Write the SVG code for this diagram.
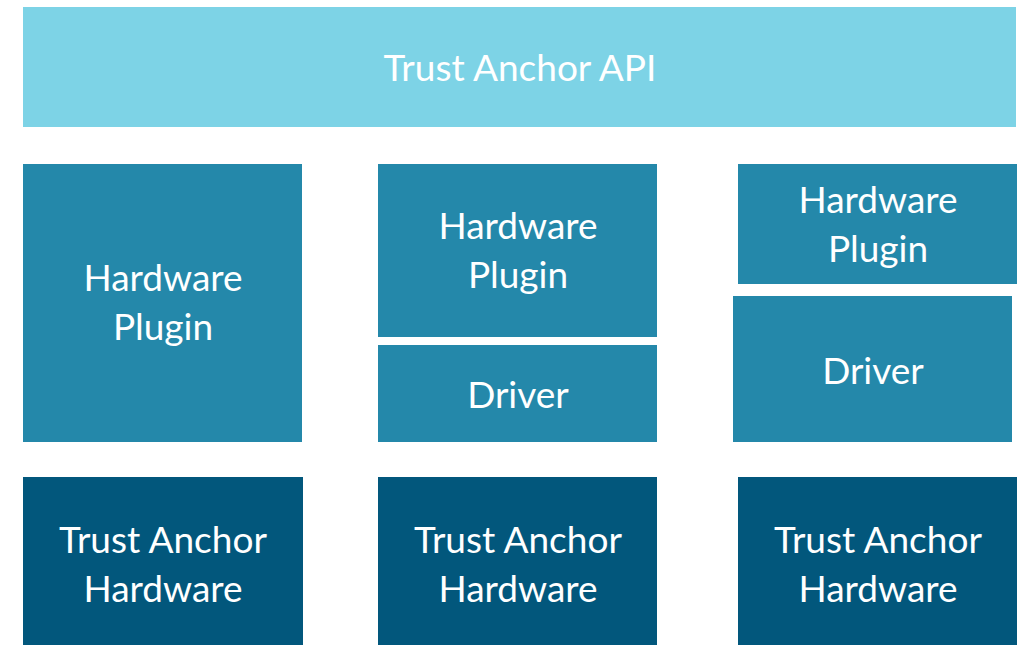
<svg xmlns="http://www.w3.org/2000/svg" width="1023" height="645" viewBox="0 0 1023 645">
  <style>
    .api { fill: #7dd3e6; }
    .mid { fill: #2488aa; }
    .dark { fill: #02577c; }
    text { font-family: Lato, "Open Sans", sans-serif; font-size: 37px; fill: #ffffff; text-anchor: middle; }
  </style>
  <rect width="1023" height="645" fill="#ffffff"/>

  <g id="api">
    <rect class="api" x="23" y="7" width="993" height="120"/>
    <text x="520" y="81">Trust Anchor API</text>
  </g>

  <g id="plugin-left">
    <rect class="mid" x="23" y="164" width="279" height="278"/>
    <text x="163" y="291">Hardware</text>
    <text x="163" y="340">Plugin</text>
  </g>

  <g id="plugin-middle">
    <rect class="mid" x="378" y="164" width="279" height="173"/>
    <text x="518" y="239">Hardware</text>
    <text x="518" y="288">Plugin</text>
  </g>

  <g id="driver-middle">
    <rect class="mid" x="378" y="345" width="279" height="97"/>
    <text x="518" y="408">Driver</text>
  </g>

  <g id="plugin-right">
    <rect class="mid" x="738" y="164" width="279" height="120"/>
    <text x="878" y="213">Hardware</text>
    <text x="878" y="262">Plugin</text>
  </g>

  <g id="driver-right">
    <rect class="mid" x="733" y="296" width="279" height="146"/>
    <text x="873" y="384">Driver</text>
  </g>

  <g id="hardware-left">
    <rect class="dark" x="23" y="477" width="280" height="168"/>
    <text x="163" y="553">Trust Anchor</text>
    <text x="163" y="602">Hardware</text>
  </g>

  <g id="hardware-middle">
    <rect class="dark" x="378" y="477" width="279" height="168"/>
    <text x="518" y="553">Trust Anchor</text>
    <text x="518" y="602">Hardware</text>
  </g>

  <g id="hardware-right">
    <rect class="dark" x="738" y="477" width="279" height="168"/>
    <text x="878" y="553">Trust Anchor</text>
    <text x="878" y="602">Hardware</text>
  </g>

  <g id="connectors"/>
</svg>
